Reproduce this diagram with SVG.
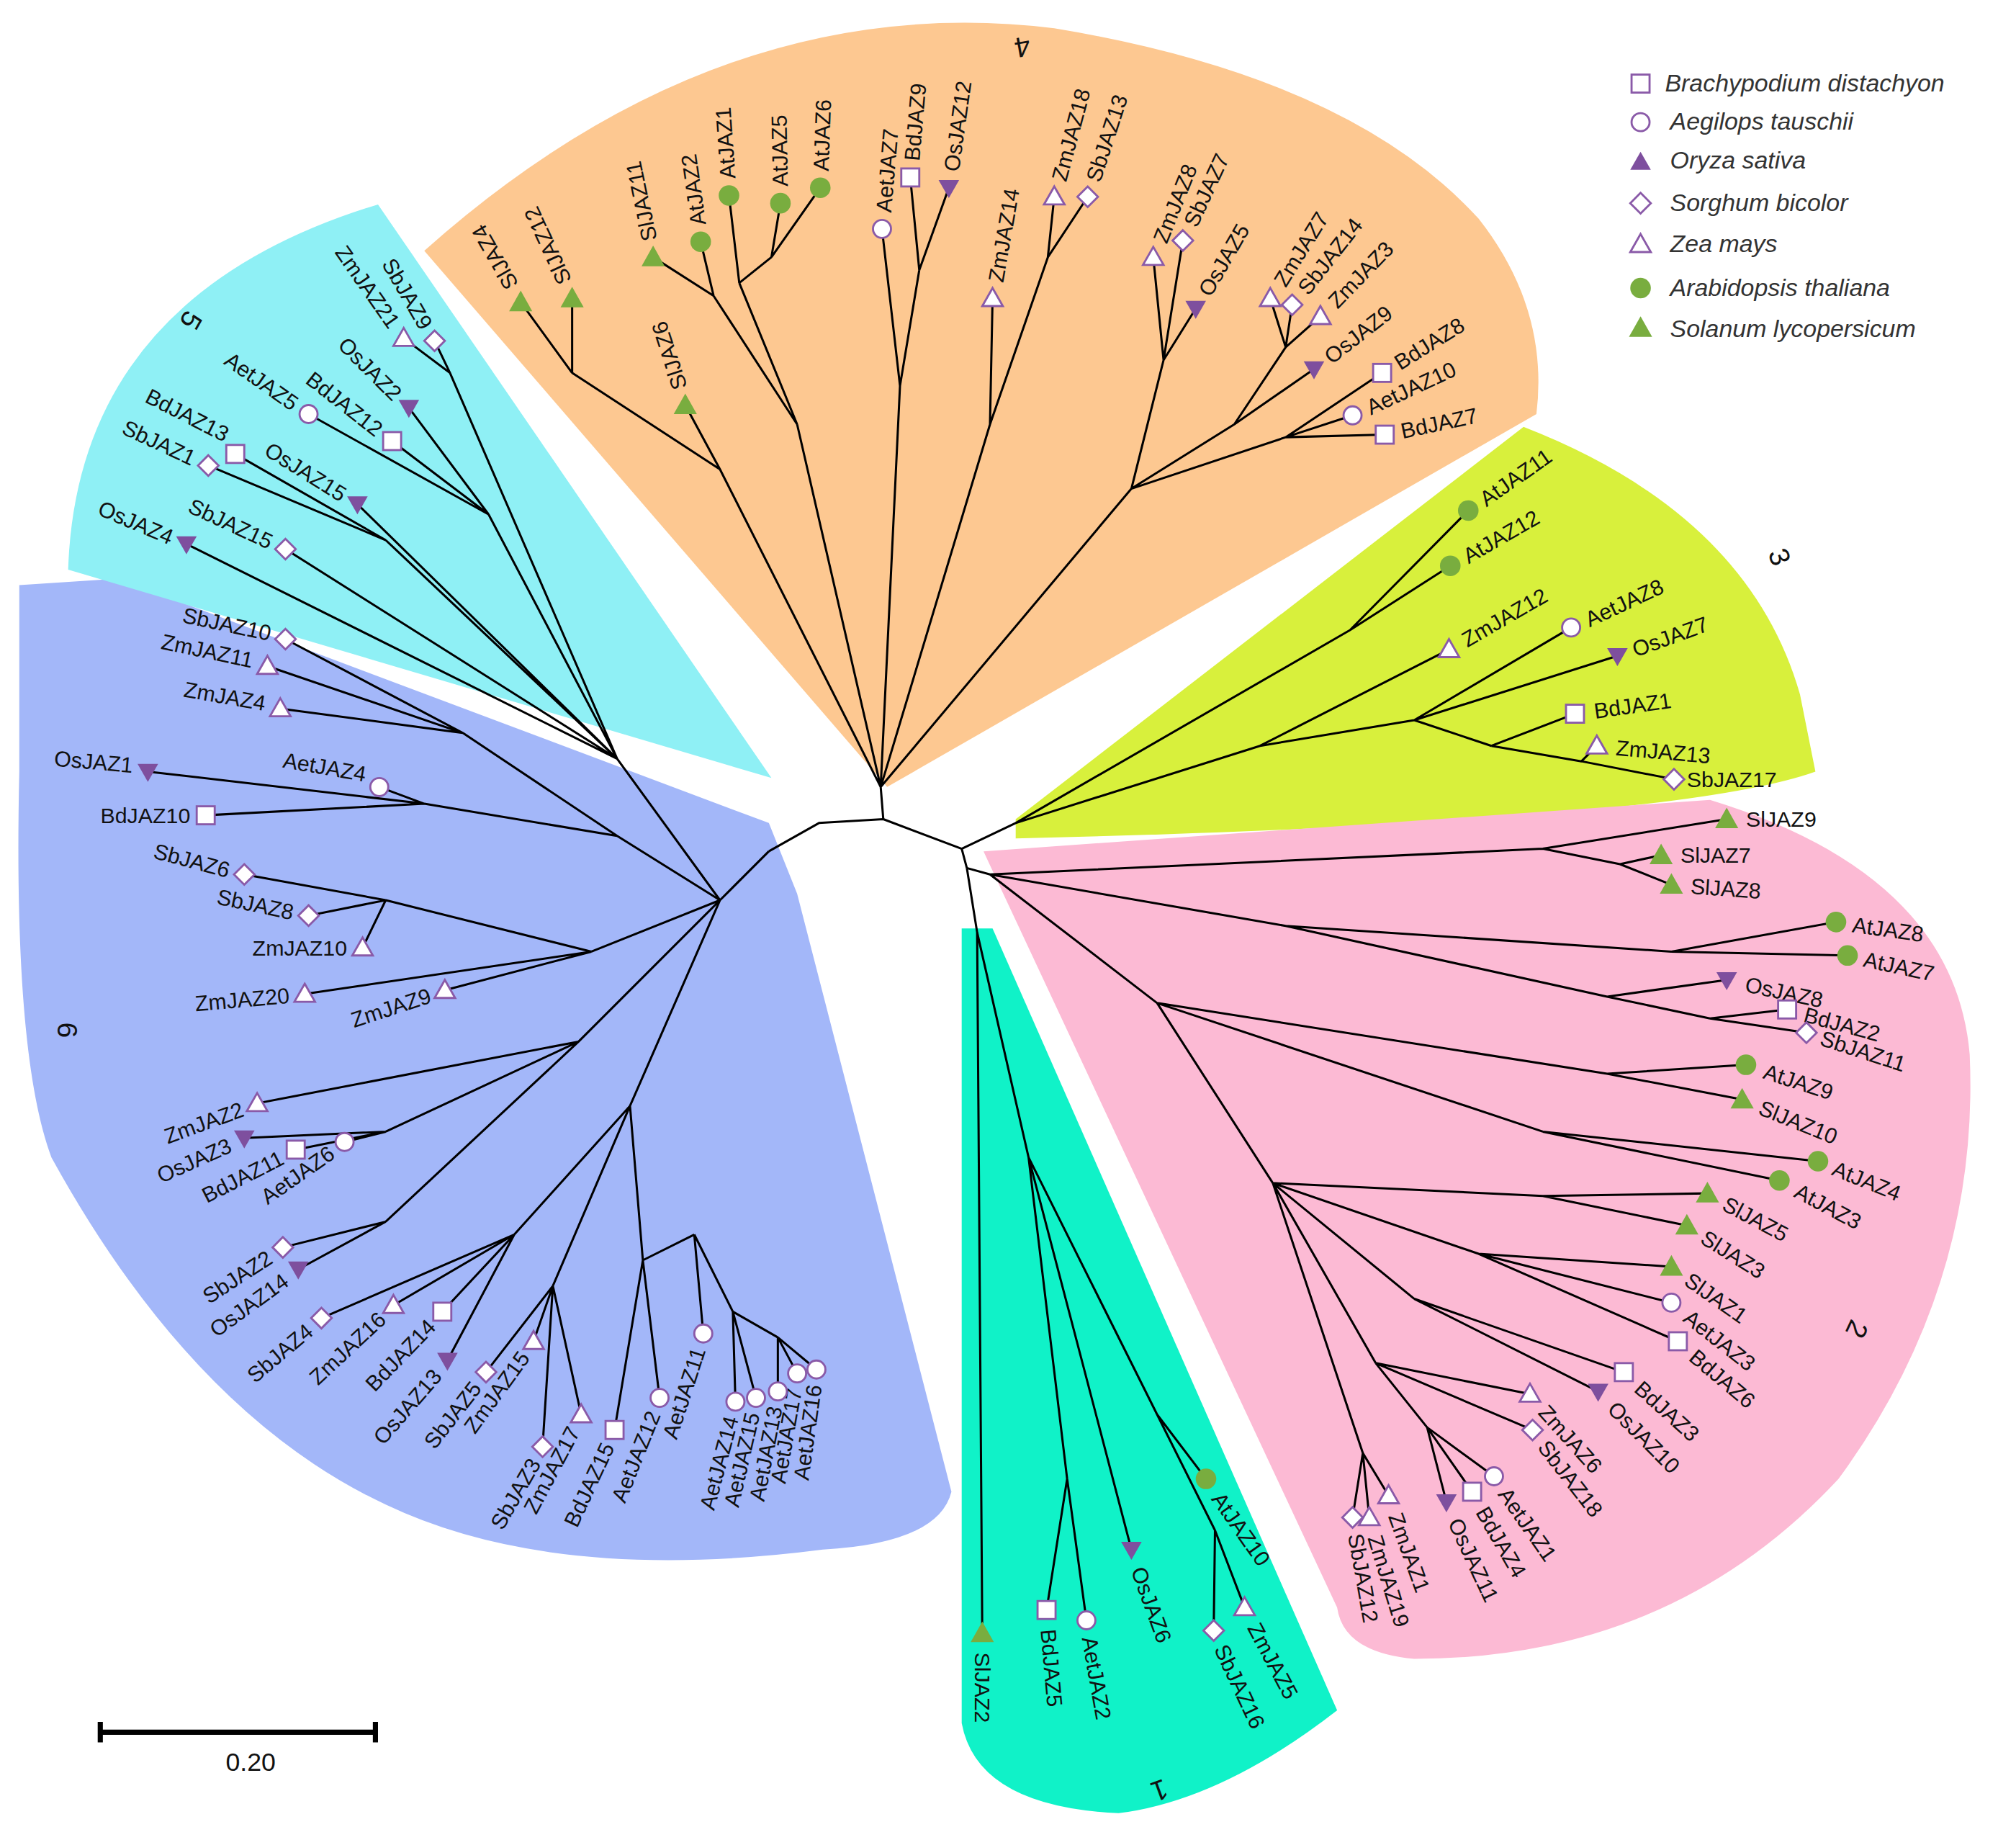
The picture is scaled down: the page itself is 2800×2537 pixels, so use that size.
<svg xmlns="http://www.w3.org/2000/svg" xmlns:xlink="http://www.w3.org/1999/xlink" width="2800" height="2537" viewBox="0 0 2800 2537">
<style>
text{font-family:"Liberation Sans",Arial,sans-serif;font-size:17px;fill:#111}
.l{text-anchor:end}
.lg{font-style:italic;font-size:19px;fill:#333}
.br{fill:none;stroke:#000;stroke-width:1.7;stroke-linejoin:round}
.num{font-size:22px}
</style>
<defs>
<rect id="sq" x="-7" y="-7" width="14" height="14" fill="#fff" stroke="#8a5aa8" stroke-width="1.6"/>
<circle id="ci" r="7" fill="#fff" stroke="#8a5aa8" stroke-width="1.6"/>
<polygon id="os" points="-8,-6 8,-6 0,8" fill="#7e4f9e"/>
<polygon id="sb" points="0,-8 8,0 0,8 -8,0" fill="#fff" stroke="#8a5aa8" stroke-width="1.6"/>
<polygon id="zm" points="0,-8 8,6 -8,6" fill="#fff" stroke="#8a5aa8" stroke-width="1.6"/>
<circle id="at" r="8" fill="#79ad3f"/>
<polygon id="sl" points="0,-9 9,7 -9,7" fill="#79ad3f"/>
</defs>
<rect width="2800" height="2537" fill="#fff"/>
<g transform="scale(1.7857)">
<g id="sectors">
<path d="M690,612 L330,195 Q560,-10 820,22 Q1050,60 1150,170 Q1205,240 1195,322 Z" fill="#fdc891"/>
<path d="M790,637 L1185,332 Q1360,400 1400,540 L1412,600 Q1300,640 790,652 Z" fill="#d8f03c"/>
<path d="M765,662 L1330,622 Q1520,680 1532,820 Q1540,1000 1430,1150 Q1300,1290 1100,1290 Q1045,1285 1040,1250 L778,690 Z" fill="#fcbad4"/>
<path d="M748,722 L772,722 L1040,1330 Q950,1400 870,1410 Q760,1405 748,1340 Z" fill="#10f2c8"/>
<path d="M598,640 L620,695 L740,1160 Q730,1200 640,1205 Q430,1232 300,1170 Q150,1100 40,900 Q10,820 15,600 L15,455 L92,450 Z" fill="#a3b7f9"/>
<path d="M600,605 L53,443 Q60,230 294,159 Z" fill="#8ff0f5"/>
</g>
<g id="connectors">
<path class="br" d="M598,662 L637,640 L687,637 L748,660 L752,675"/>
<path class="br" d="M687,637 L685,612 M685,612 L560,365 M560,365 L445,290 M445,290 L405,235 M445,290 L445,232 M560,365 L533,315 M685,612 L620,330 M620,330 L555,230 M555,230 L545,188 M555,230 L508,200 M620,330 L575,220 M575,220 L567,152 M575,220 L600,200 M600,200 L607,158 M600,200 L638,146 M685,612 L700,300 M700,300 L686,178 M700,300 L715,210 M715,210 L708,138 M715,210 L738,146 M685,612 L770,330 M770,330 L772,232 M770,330 L815,200 M815,200 L820,153 M815,200 L846,153 M685,612 L880,380 M880,380 L905,280 M905,280 L897,200 M905,280 L920,187 M905,280 L930,240 M880,380 L960,330 M960,330 L1000,270 M1000,270 L988,232 M1000,270 L1005,237 M1000,270 L1027,246 M960,330 L1022,287 M880,380 L1000,340 M1000,340 L1075,290 M1000,340 L1052,323 M1000,340 L1077,338"/>
<path class="br" d="M748,660 L790,640 M790,640 L1050,490 M1050,490 L1142,397 M1050,490 L1128,440 M790,640 L980,580 M980,580 L1127,505 M980,580 L1100,560 M1100,560 L1222,488 M1100,560 L1258,510 M1100,560 L1160,580 M1160,580 L1225,555 M1160,580 L1230,592 M1230,592 L1242,580 M1230,592 L1302,606"/>
<path class="br" d="M752,675 L770,680 M770,680 L1200,660 M1200,660 L1343,637 M1200,660 L1260,672 M1260,672 L1292,665 M1260,672 L1300,688 M770,680 L1000,720 M1000,720 L1300,740 M1300,740 L1428,717 M1300,740 L1437,743 M1000,720 L1250,775 M1250,775 L1343,762 M1250,775 L1330,792 M1330,792 L1390,785 M1330,792 L1405,803 M770,680 L900,780 M900,780 L1250,835 M1250,835 L1358,828 M1250,835 L1355,855 M900,780 L1200,880 M1200,880 L1414,903 M1200,880 L1384,918 M900,780 L990,920 M990,920 L1200,930 M1200,930 L1328,928 M1200,930 L1312,953 M990,920 L1150,975 M1150,975 L1300,985 M1150,975 L1300,1013 M1150,975 L1305,1043 M990,920 L1100,1010 M1100,1010 L1263,1067 M1100,1010 L1243,1082 M990,920 L1070,1060 M1070,1060 L1190,1084 M1070,1060 L1192,1112 M1070,1060 L1110,1110 M1110,1110 L1162,1148 M1110,1110 L1145,1160 M1110,1110 L1125,1168 M990,920 L1060,1130 M1060,1130 L1080,1163 M1060,1130 L1065,1180 M1060,1130 L1052,1180"/>
<path class="br" d="M752,675 L760,725 M760,725 L764,1270 M760,725 L800,900 M800,900 L830,1150 M830,1150 L814,1252 M830,1150 L845,1260 M800,900 L880,1205 M800,900 L900,1100 M900,1100 L938,1150 M900,1100 L945,1190 M945,1190 L968,1250 M945,1190 L944,1268"/>
<path class="br" d="M598,662 L560,700 M560,700 L480,590 M480,590 L350,290 M350,290 L338,265 M350,290 L314,263 M480,590 L380,400 M380,400 L318,317 M380,400 L305,343 M380,400 L240,322 M480,590 L278,392 M480,590 L300,420 M300,420 L183,353 M300,420 L162,362 M480,590 L222,427 M480,590 L145,423 M560,700 L480,650 M480,650 L360,570 M360,570 L222,497 M360,570 L208,518 M360,570 L218,551 M480,650 L330,625 M330,625 L115,600 M330,625 L160,634 M330,625 L295,612 M560,700 L460,740 M460,740 L300,700 M300,700 L190,680 M300,700 L240,712 M300,700 L282,737 M460,740 L237,773 M460,740 L346,770 M560,700 L450,810 M450,810 L200,858 M450,810 L300,880 M300,880 L190,885 M300,880 L230,894 M300,880 L268,888 M450,810 L300,950 M300,950 L220,970 M300,950 L232,987 M560,700 L490,860 M490,860 L400,960 M400,960 L250,1025 M400,960 L306,1015 M400,960 L344,1020 M400,960 L348,1058 M490,860 L430,1000 M430,1000 L378,1067 M430,1000 L415,1043 M430,1000 L422,1125 M430,1000 L452,1100 M490,860 L500,980 M500,980 L478,1112 M500,980 L513,1087 M500,980 L540,960 M540,960 L547,1037 M540,960 L570,1020 M570,1020 L572,1090 M570,1020 L588,1087 M570,1020 L605,1040 M605,1040 L605,1082 M605,1040 L620,1068 M605,1040 L635,1065"/>
</g>
<g id="SlJAZ4"><use href="#sl" x="405" y="235"/><text x="405" y="235" dx="13" dy="6" transform="rotate(-120 405 235)">SlJAZ4</text></g>
<g id="SlJAZ12"><use href="#sl" x="445" y="232"/><text x="445" y="232" dx="13" dy="6" transform="rotate(-115 445 232)">SlJAZ12</text></g>
<g id="SlJAZ6"><use href="#sl" x="533" y="315"/><text x="533" y="315" dx="13" dy="6" transform="rotate(-108 533 315)">SlJAZ6</text></g>
<g id="SlJAZ11"><use href="#sl" x="508" y="200"/><text x="508" y="200" dx="13" dy="6" transform="rotate(-102 508 200)">SlJAZ11</text></g>
<g id="AtJAZ2"><use href="#at" x="545" y="188"/><text x="545" y="188" dx="13" dy="6" transform="rotate(-98 545 188)">AtJAZ2</text></g>
<g id="AtJAZ1"><use href="#at" x="567" y="152"/><text x="567" y="152" dx="13" dy="6" transform="rotate(-94 567 152)">AtJAZ1</text></g>
<g id="AtJAZ5"><use href="#at" x="607" y="158"/><text x="607" y="158" dx="13" dy="6" transform="rotate(-91 607 158)">AtJAZ5</text></g>
<g id="AtJAZ6"><use href="#at" x="638" y="146"/><text x="638" y="146" dx="13" dy="6" transform="rotate(-88 638 146)">AtJAZ6</text></g>
<g id="AetJAZ7"><use href="#ci" x="686" y="178"/><text x="686" y="178" dx="13" dy="6" transform="rotate(-85 686 178)">AetJAZ7</text></g>
<g id="BdJAZ9"><use href="#sq" x="708" y="138"/><text x="708" y="138" dx="13" dy="6" transform="rotate(-85 708 138)">BdJAZ9</text></g>
<g id="OsJAZ12"><use href="#os" x="738" y="146"/><text x="738" y="146" dx="13" dy="6" transform="rotate(-82 738 146)">OsJAZ12</text></g>
<g id="ZmJAZ14"><use href="#zm" x="772" y="232"/><text x="772" y="232" dx="13" dy="6" transform="rotate(-80 772 232)">ZmJAZ14</text></g>
<g id="ZmJAZ18"><use href="#zm" x="820" y="153"/><text x="820" y="153" dx="13" dy="6" transform="rotate(-75 820 153)">ZmJAZ18</text></g>
<g id="SbJAZ13"><use href="#sb" x="846" y="153"/><text x="846" y="153" dx="13" dy="6" transform="rotate(-72 846 153)">SbJAZ13</text></g>
<g id="ZmJAZ8"><use href="#zm" x="897" y="200"/><text x="897" y="200" dx="13" dy="6" transform="rotate(-68 897 200)">ZmJAZ8</text></g>
<g id="SbJAZ7"><use href="#sb" x="920" y="187"/><text x="920" y="187" dx="13" dy="6" transform="rotate(-65 920 187)">SbJAZ7</text></g>
<g id="OsJAZ5"><use href="#os" x="930" y="240"/><text x="930" y="240" dx="13" dy="6" transform="rotate(-60 930 240)">OsJAZ5</text></g>
<g id="ZmJAZ7"><use href="#zm" x="988" y="232"/><text x="988" y="232" dx="13" dy="6" transform="rotate(-58 988 232)">ZmJAZ7</text></g>
<g id="SbJAZ14"><use href="#sb" x="1005" y="237"/><text x="1005" y="237" dx="13" dy="6" transform="rotate(-52 1005 237)">SbJAZ14</text></g>
<g id="ZmJAZ3"><use href="#zm" x="1027" y="246"/><text x="1027" y="246" dx="13" dy="6" transform="rotate(-46 1027 246)">ZmJAZ3</text></g>
<g id="OsJAZ9"><use href="#os" x="1022" y="287"/><text x="1022" y="287" dx="13" dy="6" transform="rotate(-38 1022 287)">OsJAZ9</text></g>
<g id="BdJAZ8"><use href="#sq" x="1075" y="290"/><text x="1075" y="290" dx="13" dy="6" transform="rotate(-32 1075 290)">BdJAZ8</text></g>
<g id="AetJAZ10"><use href="#ci" x="1052" y="323"/><text x="1052" y="323" dx="13" dy="6" transform="rotate(-25 1052 323)">AetJAZ10</text></g>
<g id="BdJAZ7"><use href="#sq" x="1077" y="338"/><text x="1077" y="338" dx="13" dy="6" transform="rotate(-12 1077 338)">BdJAZ7</text></g>
<g id="AtJAZ11"><use href="#at" x="1142" y="397"/><text x="1142" y="397" dx="13" dy="6" transform="rotate(-35 1142 397)">AtJAZ11</text></g>
<g id="AtJAZ12"><use href="#at" x="1128" y="440"/><text x="1128" y="440" dx="13" dy="6" transform="rotate(-30 1128 440)">AtJAZ12</text></g>
<g id="ZmJAZ12"><use href="#zm" x="1127" y="505"/><text x="1127" y="505" dx="13" dy="6" transform="rotate(-30 1127 505)">ZmJAZ12</text></g>
<g id="AetJAZ8"><use href="#ci" x="1222" y="488"/><text x="1222" y="488" dx="13" dy="6" transform="rotate(-25 1222 488)">AetJAZ8</text></g>
<g id="OsJAZ7"><use href="#os" x="1258" y="510"/><text x="1258" y="510" dx="13" dy="6" transform="rotate(-20 1258 510)">OsJAZ7</text></g>
<g id="BdJAZ1"><use href="#sq" x="1225" y="555"/><text x="1225" y="555" dx="15" dy="6" transform="rotate(-8 1225 555)">BdJAZ1</text></g>
<g id="ZmJAZ13"><use href="#zm" x="1242" y="580"/><text x="1242" y="580" dx="15" dy="6" transform="rotate(5 1242 580)">ZmJAZ13</text></g>
<g id="SbJAZ17"><use href="#sb" x="1302" y="606"/><text x="1302" y="606" dx="10" dy="6">SbJAZ17</text></g>
<g id="SlJAZ9"><use href="#sl" x="1343" y="637"/><text x="1343" y="637" dx="15" dy="6">SlJAZ9</text></g>
<g id="SlJAZ7"><use href="#sl" x="1292" y="665"/><text x="1292" y="665" dx="15" dy="6">SlJAZ7</text></g>
<g id="SlJAZ8"><use href="#sl" x="1300" y="688"/><text x="1300" y="688" dx="15" dy="6" transform="rotate(4 1300 688)">SlJAZ8</text></g>
<g id="AtJAZ8"><use href="#at" x="1428" y="717"/><text x="1428" y="717" dx="13" dy="6" transform="rotate(8 1428 717)">AtJAZ8</text></g>
<g id="AtJAZ7"><use href="#at" x="1437" y="743"/><text x="1437" y="743" dx="13" dy="6" transform="rotate(12 1437 743)">AtJAZ7</text></g>
<g id="OsJAZ8"><use href="#os" x="1343" y="762"/><text x="1343" y="762" dx="15" dy="6" transform="rotate(12 1343 762)">OsJAZ8</text></g>
<g id="BdJAZ2"><use href="#sq" x="1390" y="785"/><text x="1390" y="785" dx="14" dy="6" transform="rotate(15 1390 785)">BdJAZ2</text></g>
<g id="SbJAZ11"><use href="#sb" x="1405" y="803"/><text x="1405" y="803" dx="12" dy="6" transform="rotate(18 1405 803)">SbJAZ11</text></g>
<g id="AtJAZ9"><use href="#at" x="1358" y="828"/><text x="1358" y="828" dx="15" dy="6" transform="rotate(18 1358 828)">AtJAZ9</text></g>
<g id="SlJAZ10"><use href="#sl" x="1355" y="855"/><text x="1355" y="855" dx="15" dy="6" transform="rotate(22 1355 855)">SlJAZ10</text></g>
<g id="AtJAZ4"><use href="#at" x="1414" y="903"/><text x="1414" y="903" dx="13" dy="6" transform="rotate(22 1414 903)">AtJAZ4</text></g>
<g id="AtJAZ3"><use href="#at" x="1384" y="918"/><text x="1384" y="918" dx="15" dy="6" transform="rotate(28 1384 918)">AtJAZ3</text></g>
<g id="SlJAZ5"><use href="#sl" x="1328" y="928"/><text x="1328" y="928" dx="15" dy="6" transform="rotate(28 1328 928)">SlJAZ5</text></g>
<g id="SlJAZ3"><use href="#sl" x="1312" y="953"/><text x="1312" y="953" dx="15" dy="6" transform="rotate(32 1312 953)">SlJAZ3</text></g>
<g id="SlJAZ1"><use href="#sl" x="1300" y="985"/><text x="1300" y="985" dx="15" dy="6" transform="rotate(35 1300 985)">SlJAZ1</text></g>
<g id="AetJAZ3"><use href="#ci" x="1300" y="1013"/><text x="1300" y="1013" dx="15" dy="6" transform="rotate(38 1300 1013)">AetJAZ3</text></g>
<g id="BdJAZ6"><use href="#sq" x="1305" y="1043"/><text x="1305" y="1043" dx="15" dy="6" transform="rotate(40 1305 1043)">BdJAZ6</text></g>
<g id="BdJAZ3"><use href="#sq" x="1263" y="1067"/><text x="1263" y="1067" dx="15" dy="6" transform="rotate(42 1263 1067)">BdJAZ3</text></g>
<g id="OsJAZ10"><use href="#os" x="1243" y="1082"/><text x="1243" y="1082" dx="15" dy="6" transform="rotate(45 1243 1082)">OsJAZ10</text></g>
<g id="ZmJAZ6"><use href="#zm" x="1190" y="1084"/><text x="1190" y="1084" dx="15" dy="6" transform="rotate(48 1190 1084)">ZmJAZ6</text></g>
<g id="SbJAZ18"><use href="#sb" x="1192" y="1112"/><text x="1192" y="1112" dx="13" dy="6" transform="rotate(52 1192 1112)">SbJAZ18</text></g>
<g id="AetJAZ1"><use href="#ci" x="1162" y="1148"/><text x="1162" y="1148" dx="13" dy="6" transform="rotate(55 1162 1148)">AetJAZ1</text></g>
<g id="BdJAZ4"><use href="#sq" x="1145" y="1160"/><text x="1145" y="1160" dx="15" dy="6" transform="rotate(60 1145 1160)">BdJAZ4</text></g>
<g id="OsJAZ11"><use href="#os" x="1125" y="1168"/><text x="1125" y="1168" dx="15" dy="6" transform="rotate(65 1125 1168)">OsJAZ11</text></g>
<g id="ZmJAZ1"><use href="#zm" x="1080" y="1163"/><text x="1080" y="1163" dx="15" dy="6" transform="rotate(70 1080 1163)">ZmJAZ1</text></g>
<g id="ZmJAZ19"><use href="#zm" x="1065" y="1180"/><text x="1065" y="1180" dx="15" dy="6" transform="rotate(73 1065 1180)">ZmJAZ19</text></g>
<g id="SbJAZ12"><use href="#sb" x="1052" y="1180"/><text x="1052" y="1180" dx="13" dy="6" transform="rotate(80 1052 1180)">SbJAZ12</text></g>
<g id="AtJAZ10"><use href="#at" x="938" y="1150"/><text x="938" y="1150" dx="15" dy="6" transform="rotate(55 938 1150)">AtJAZ10</text></g>
<g id="ZmJAZ5"><use href="#zm" x="968" y="1250"/><text x="968" y="1250" dx="15" dy="6" transform="rotate(62 968 1250)">ZmJAZ5</text></g>
<g id="SbJAZ16"><use href="#sb" x="944" y="1268"/><text x="944" y="1268" dx="13" dy="6" transform="rotate(65 944 1268)">SbJAZ16</text></g>
<g id="OsJAZ6"><use href="#os" x="880" y="1205"/><text x="880" y="1205" dx="15" dy="6" transform="rotate(70 880 1205)">OsJAZ6</text></g>
<g id="AetJAZ2"><use href="#ci" x="845" y="1260"/><text x="845" y="1260" dx="13" dy="6" transform="rotate(80 845 1260)">AetJAZ2</text></g>
<g id="BdJAZ5"><use href="#sq" x="814" y="1252"/><text x="814" y="1252" dx="15" dy="6" transform="rotate(85 814 1252)">BdJAZ5</text></g>
<g id="SlJAZ2"><use href="#sl" x="764" y="1270"/><text x="764" y="1270" dx="15" dy="6" transform="rotate(90 764 1270)">SlJAZ2</text></g>
<g id="AetJAZ16"><use href="#ci" x="635" y="1065"/><text class="l" x="635" y="1065" dx="-12" dy="6" transform="rotate(-82 635 1065)">AetJAZ16</text></g>
<g id="AetJAZ17"><use href="#ci" x="620" y="1068"/><text class="l" x="620" y="1068" dx="-12" dy="6" transform="rotate(-80 620 1068)">AetJAZ17</text></g>
<g id="AetJAZ13"><use href="#ci" x="605" y="1082"/><text class="l" x="605" y="1082" dx="-12" dy="6" transform="rotate(-79 605 1082)">AetJAZ13</text></g>
<g id="AetJAZ15"><use href="#ci" x="588" y="1087"/><text class="l" x="588" y="1087" dx="-12" dy="6" transform="rotate(-77 588 1087)">AetJAZ15</text></g>
<g id="AetJAZ14"><use href="#ci" x="572" y="1090"/><text class="l" x="572" y="1090" dx="-12" dy="6" transform="rotate(-75 572 1090)">AetJAZ14</text></g>
<g id="AetJAZ11"><use href="#ci" x="547" y="1037"/><text class="l" x="547" y="1037" dx="-12" dy="6" transform="rotate(-72 547 1037)">AetJAZ11</text></g>
<g id="AetJAZ12"><use href="#ci" x="513" y="1087"/><text class="l" x="513" y="1087" dx="-12" dy="6" transform="rotate(-68 513 1087)">AetJAZ12</text></g>
<g id="BdJAZ15"><use href="#sq" x="478" y="1112"/><text class="l" x="478" y="1112" dx="-12" dy="6" transform="rotate(-65 478 1112)">BdJAZ15</text></g>
<g id="ZmJAZ17"><use href="#zm" x="452" y="1100"/><text class="l" x="452" y="1100" dx="-12" dy="6" transform="rotate(-62 452 1100)">ZmJAZ17</text></g>
<g id="SbJAZ3"><use href="#sb" x="422" y="1125"/><text class="l" x="422" y="1125" dx="-12" dy="6" transform="rotate(-60 422 1125)">SbJAZ3</text></g>
<g id="ZmJAZ15"><use href="#zm" x="415" y="1043"/><text class="l" x="415" y="1043" dx="-12" dy="6" transform="rotate(-54 415 1043)">ZmJAZ15</text></g>
<g id="SbJAZ5"><use href="#sb" x="378" y="1067"/><text class="l" x="378" y="1067" dx="-12" dy="6" transform="rotate(-52 378 1067)">SbJAZ5</text></g>
<g id="OsJAZ13"><use href="#os" x="348" y="1058"/><text class="l" x="348" y="1058" dx="-12" dy="6" transform="rotate(-49 348 1058)">OsJAZ13</text></g>
<g id="BdJAZ14"><use href="#sq" x="344" y="1020"/><text class="l" x="344" y="1020" dx="-12" dy="6" transform="rotate(-46 344 1020)">BdJAZ14</text></g>
<g id="ZmJAZ16"><use href="#zm" x="306" y="1015"/><text class="l" x="306" y="1015" dx="-12" dy="6" transform="rotate(-43 306 1015)">ZmJAZ16</text></g>
<g id="SbJAZ4"><use href="#sb" x="250" y="1025"/><text class="l" x="250" y="1025" dx="-12" dy="6" transform="rotate(-40 250 1025)">SbJAZ4</text></g>
<g id="OsJAZ14"><use href="#os" x="232" y="987"/><text class="l" x="232" y="987" dx="-12" dy="6" transform="rotate(-36 232 987)">OsJAZ14</text></g>
<g id="SbJAZ2"><use href="#sb" x="220" y="970"/><text class="l" x="220" y="970" dx="-12" dy="6" transform="rotate(-33 220 970)">SbJAZ2</text></g>
<g id="AetJAZ6"><use href="#ci" x="268" y="888"/><text class="l" x="268" y="888" dx="-12" dy="6" transform="rotate(-35 268 888)">AetJAZ6</text></g>
<g id="BdJAZ11"><use href="#sq" x="230" y="894"/><text class="l" x="230" y="894" dx="-12" dy="6" transform="rotate(-27 230 894)">BdJAZ11</text></g>
<g id="OsJAZ3"><use href="#os" x="190" y="885"/><text class="l" x="190" y="885" dx="-12" dy="6" transform="rotate(-24 190 885)">OsJAZ3</text></g>
<g id="ZmJAZ2"><use href="#zm" x="200" y="858"/><text class="l" x="200" y="858" dx="-12" dy="6" transform="rotate(-20 200 858)">ZmJAZ2</text></g>
<g id="ZmJAZ9"><use href="#zm" x="346" y="770"/><text class="l" x="346" y="770" dx="-12" dy="6" transform="rotate(-18 346 770)">ZmJAZ9</text></g>
<g id="ZmJAZ20"><use href="#zm" x="237" y="773"/><text class="l" x="237" y="773" dx="-12" dy="6" transform="rotate(-5 237 773)">ZmJAZ20</text></g>
<g id="ZmJAZ10"><use href="#zm" x="282" y="737"/><text class="l" x="282" y="737" dx="-12" dy="6">ZmJAZ10</text></g>
<g id="SbJAZ8"><use href="#sb" x="240" y="712"/><text class="l" x="240" y="712" dx="-12" dy="6" transform="rotate(12 240 712)">SbJAZ8</text></g>
<g id="SbJAZ6"><use href="#sb" x="190" y="680"/><text class="l" x="190" y="680" dx="-12" dy="6" transform="rotate(15 190 680)">SbJAZ6</text></g>
<g id="BdJAZ10"><use href="#sq" x="160" y="634"/><text class="l" x="160" y="634" dx="-12" dy="6">BdJAZ10</text></g>
<g id="AetJAZ4"><use href="#ci" x="295" y="612"/><text class="l" x="295" y="612" dx="-12" dy="-2" transform="rotate(10 295 612)">AetJAZ4</text></g>
<g id="OsJAZ1"><use href="#os" x="115" y="600"/><text class="l" x="115" y="600" dx="-12" dy="2" transform="rotate(5 115 600)">OsJAZ1</text></g>
<g id="ZmJAZ4"><use href="#zm" x="218" y="551"/><text class="l" x="218" y="551" dx="-12" dy="4" transform="rotate(10 218 551)">ZmJAZ4</text></g>
<g id="ZmJAZ11"><use href="#zm" x="208" y="518"/><text class="l" x="208" y="518" dx="-12" dy="4" transform="rotate(12 208 518)">ZmJAZ11</text></g>
<g id="SbJAZ10"><use href="#sb" x="222" y="497"/><text class="l" x="222" y="497" dx="-12" dy="4" transform="rotate(12 222 497)">SbJAZ10</text></g>
<g id="OsJAZ4"><use href="#os" x="145" y="423"/><text class="l" x="145" y="423" dx="-12" dy="6" transform="rotate(23 145 423)">OsJAZ4</text></g>
<g id="SbJAZ15"><use href="#sb" x="222" y="427"/><text class="l" x="222" y="427" dx="-12" dy="6" transform="rotate(25 222 427)">SbJAZ15</text></g>
<g id="SbJAZ1"><use href="#sb" x="162" y="362"/><text class="l" x="162" y="362" dx="-12" dy="6" transform="rotate(25 162 362)">SbJAZ1</text></g>
<g id="BdJAZ13"><use href="#sq" x="183" y="353"/><text class="l" x="183" y="353" dx="-12" dy="-4" transform="rotate(27 183 353)">BdJAZ13</text></g>
<g id="OsJAZ15"><use href="#os" x="278" y="392"/><text class="l" x="278" y="392" dx="-12" dy="6" transform="rotate(32 278 392)">OsJAZ15</text></g>
<g id="BdJAZ12"><use href="#sq" x="305" y="343"/><text class="l" x="305" y="343" dx="-12" dy="6" transform="rotate(38 305 343)">BdJAZ12</text></g>
<g id="AetJAZ5"><use href="#ci" x="240" y="322"/><text class="l" x="240" y="322" dx="-12" dy="6" transform="rotate(35 240 322)">AetJAZ5</text></g>
<g id="OsJAZ2"><use href="#os" x="318" y="317"/><text class="l" x="318" y="317" dx="-12" dy="6" transform="rotate(45 318 317)">OsJAZ2</text></g>
<g id="ZmJAZ21"><use href="#zm" x="314" y="263"/><text class="l" x="314" y="263" dx="-12" dy="6" transform="rotate(55 314 263)">ZmJAZ21</text></g>
<g id="SbJAZ9"><use href="#sb" x="338" y="265"/><text class="l" x="338" y="265" dx="-12" dy="6" transform="rotate(60 338 265)">SbJAZ9</text></g>
<g id="clade-numbers">
<text class="num" x="800" y="28" transform="rotate(170 800 28)">4</text>
<text class="num" x="1375" y="430" transform="rotate(70 1375 430)">3</text>
<text class="num" x="1440" y="1025" transform="rotate(115 1440 1025)">2</text>
<text class="num" x="905" y="1383" transform="rotate(160 905 1383)">1</text>
<text class="num" x="45" y="795" transform="rotate(90 45 795)">6</text>
<text class="num" x="145" y="240" transform="rotate(120 145 240)">5</text>
</g>
<g id="legend">
<use href="#sq" x="1276" y="65"/><text class="lg" x="1295" y="71">Brachypodium distachyon</text>
<use href="#ci" x="1276" y="95"/><text class="lg" x="1299" y="101">Aegilops tauschii</text>
<polygon points="1268,132 1284,132 1276,118" fill="#7e4f9e"/><text class="lg" x="1299" y="131">Oryza sativa</text>
<use href="#sb" x="1276" y="158"/><text class="lg" x="1299" y="164">Sorghum bicolor</text>
<use href="#zm" x="1276" y="190"/><text class="lg" x="1299" y="196">Zea mays</text>
<use href="#at" x="1276" y="224"/><text class="lg" x="1299" y="230">Arabidopsis thaliana</text>
<use href="#sl" x="1276" y="255"/><text class="lg" x="1299" y="262">Solanum lycopersicum</text>
</g>
<g id="scale">
<path d="M78,1347 L292,1347 M78,1339 L78,1355 M292,1339 L292,1355" stroke="#000" stroke-width="4" fill="none"/>
<text x="195" y="1377" text-anchor="middle" style="font-size:20px">0.20</text>
</g>
</g>
</svg>
